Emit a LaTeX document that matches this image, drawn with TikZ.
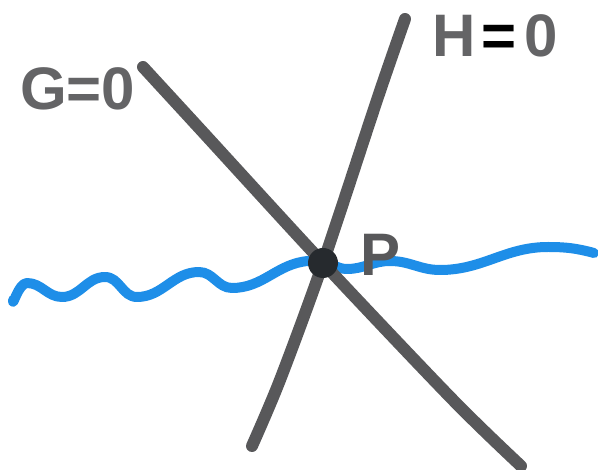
\documentclass[tikz,border=0pt]{standalone}
\usepackage{fontspec}
\setsansfont{Liberation Sans}
\definecolor{penblue}{RGB}{30,142,232}
\definecolor{pengray}{RGB}{88,88,90}
\definecolor{labgray}{RGB}{100,100,102}
\definecolor{blobdark}{RGB}{38,42,46}
\tikzset{
  gline/.style={draw=pengray, line width=12pt, line cap=round, line join=round},
  bline/.style={draw=penblue, line width=10pt, line cap=round, line join=round},
  wv/.style={out=0,in=180},
  lab/.style={font=\sffamily\bfseries\fontsize{60}{60}\selectfont, text=labgray, inner sep=0pt, anchor=base west}
}
\begin{document}
\begin{tikzpicture}[x=1pt,y=-1pt]
\useasboundingbox (0,0) rectangle (598,470);
\coordinate (P) at (323,263);
% wavy blue curve
\draw[bline] (13,300) to[out=-95,in=180] (27,283)
  to[wv] (62,297) to[wv] (105,277) to[wv] (137,297) to[wv] (199,272)
  to[wv] (232,288) to[out=0,in=185] (308,261) to[out=5,in=180] (P)
  to[out=0,in=180] (347,269) to[wv] (390,261) to[wv] (440,270)
  to[wv] (548,247) to[out=0,in=165] (594,253);
% G = 0 line
\draw[gline] plot[smooth, tension=0.5] coordinates {(143,67) (200,129) (P) (453,400) (521,466)};
% H = 0 line
\draw[gline] plot[smooth, tension=0.5] coordinates {(405,19) (378,97) (P) (280,380) (252,446)};
% point P
\fill[blobdark] (P) circle (15pt);
% labels
\node[lab] (glab) at (20,110) {G=0};
\node[lab] (hlab) at (432,57) {H\hspace{6pt}{\color{black}=}\hspace{8pt}0};
\node[lab, text=pengray] (plab) at (360,276) {P};
\end{tikzpicture}
\end{document}
